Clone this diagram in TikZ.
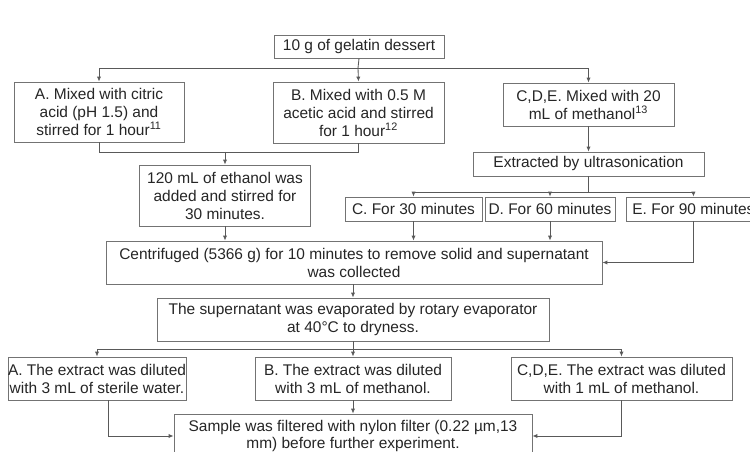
\documentclass[tikz,border=0pt]{standalone}
\usepackage{fontspec}
\setmainfont{Liberation Sans}
\usepackage{tikz}
\usetikzlibrary{arrows.meta,positioning,calc}

\begin{document}
\begin{tikzpicture}[x=0.025cm,y=-0.025cm,
  box/.style={draw=black!55,line width=0.6pt,align=center,inner sep=0pt,text=black!85,
    font=\fontsize{11}{12.8}\selectfont},
  ln/.style={draw=black!65,line width=0.6pt},
  arr/.style={ln,-{Latex[length=3.5pt,width=3pt]}}]
\useasboundingbox (0,0) rectangle (750,452);
\fill[white] (0,0) rectangle (750,452);

\node[box,minimum width=4.25cm,minimum height=0.575cm] (top) at (359,46.5){10 g of gelatin dessert};
\node[box,minimum width=4.25cm,minimum height=1.5cm] (A) at (99,112){A. Mixed with citric\\acid (pH 1.5) and\\stirred for 1 hour\textsuperscript{11}};
\node[box,minimum width=4.275cm,minimum height=1.525cm] (B) at (358.5,112.5){B. Mixed with 0.5 M\\acetic acid and stirred\\for 1 hour\textsuperscript{12}};
\node[box,minimum width=4.275cm,minimum height=1.075cm] (CDE) at (588.5,104.5){C,D,E. Mixed with 20\\mL of methanol\textsuperscript{13}};
\node[box,minimum width=5.775cm,minimum height=0.6cm] (ext) at (588.5,164){Extracted by ultrasonication};
\node[box,minimum width=4.275cm,minimum height=1.525cm] (eth) at (225,195.5){120 mL of ethanol was\\added and stirred for\\30 minutes.};
\node[box,minimum width=3.425cm,minimum height=0.6cm] (C) at (413.5,209){C. For 30 minutes};
\node[box,minimum width=3.25cm,minimum height=0.6cm] (D) at (550,209){D. For 60 minutes};
\node[box,minimum width=3.35cm,minimum height=0.6cm,anchor=west] (E) at (626,209){E. For 90 minutes};
\node[box,minimum width=12.4cm,minimum height=1.075cm] (cent) at (354,262.5){Centrifuged (5366 g) for 10 minutes to remove solid and supernatant\\was collected};
\node[box,minimum width=9.8cm,minimum height=1.075cm] (evap) at (353,319.5){The supernatant was evaporated by rotary evaporator\\at 40°C to dryness.};
\node[box,minimum width=4.35cm,minimum height=1.075cm] (A2) at (97,378.5){A. The extract was diluted\\with 3 mL of sterile water.};
\node[box,minimum width=4.9cm,minimum height=1.075cm] (B2) at (353,378.5){B. The extract was diluted\\with 3 mL of methanol.};
\node[box,minimum width=5.525cm,minimum height=1.075cm] (CDE2) at (621.5,378.5){C,D,E. The extract was diluted\\with 1 mL of methanol.};
\node[box,minimum width=8.95cm,minimum height=1.1cm] (fin) at (353,436){Sample was filtered with nylon filter (0.22 µm,13\\mm) before further experiment.};

\coordinate (j1) at (358,68);
\coordinate (j2) at (225,152);
\coordinate (j3) at (588,192);
\coordinate (j4) at (353,349);

\draw[ln] (top.south) -- (j1);
\draw[arr] (j1) -| (A.north);
\draw[arr] (j1) -- (B.north);
\draw[arr] (j1) -| (CDE.north);
\draw[ln] (A.south) |- (j2);
\draw[ln] (B.south) |- (j2);
\draw[arr] (j2) -- (eth.north);
\draw[arr] (eth.south) -- (eth.south |- cent.north);
\draw[arr] (CDE.south) -- (ext.north);
\draw[ln] (ext.south -| j3) -- (j3);
\draw[arr] (j3) -| (C.north);
\draw[arr] (j3) -| (D.north);
\draw[arr] (j3) -| (E.north);
\draw[arr] (C.south) -- (C.south |- cent.north);
\draw[arr] (D.south) -- (D.south |- cent.north);
\draw[arr] (E.south) |- (cent.east);
\draw[arr] (cent.south -| evap.north) -- (evap.north);
\draw[ln] (evap.south) -- (j4);
\draw[arr] (j4) -| (A2.north);
\draw[arr] (j4) -- (B2.north);
\draw[arr] (j4) -| (CDE2.north);
\draw[arr] ($(A2.south)+(11,0)$) |- (fin.west);
\draw[arr] (B2.south) -- (fin.north);
\draw[arr] (CDE2.south) |- (fin.east);
\end{tikzpicture}
\end{document}
